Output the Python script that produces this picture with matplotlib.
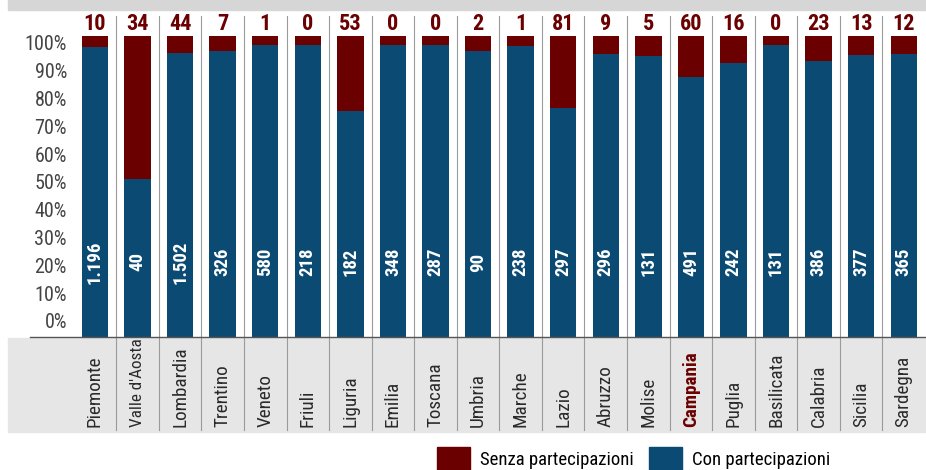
import matplotlib.pyplot as plt
from matplotlib.patches import Patch, Rectangle
from matplotlib.transforms import blended_transform_factory, ScaledTranslation

plt.rcParams['font.family'] = ['Roboto Condensed', 'Liberation Sans Narrow',
                               'Liberation Sans', 'DejaVu Sans']

# Dati per regione
regioni = ['Piemonte', "Valle d'Aosta", 'Lombardia', 'Trentino', 'Veneto', 'Friuli',
           'Liguria', 'Emilia', 'Toscana', 'Umbria', 'Marche', 'Lazio', 'Abruzzo',
           'Molise', 'Campania', 'Puglia', 'Basilicata', 'Calabria', 'Sicilia', 'Sardegna']
senza = [10, 34, 44, 7, 1, 0, 53, 0, 0, 2, 1, 81, 9, 5, 60, 16, 0, 23, 13, 12]
con = [1196, 40, 1502, 326, 580, 218, 182, 348, 287, 90, 238, 297, 296, 131, 491,
       242, 131, 386, 377, 365]
y_ticks = list(range(0, 101, 10))

ROSSO = '#6b0000'
BLU = '#0b4a73'
TOP = 103  # le barre arrivano un po' sopra il 100%

quota_con = [c / (c + s) * 100 for c, s in zip(con, senza)]
quota_senza = [TOP - q for q in quota_con]
x = list(range(len(regioni)))

fig = plt.figure(figsize=(9.26, 4.70), dpi=100)
ax = fig.add_axes([73.7 / 926, 133 / 470, (925 - 73.7) / 926, 325 / 470])
ax.patch.set_alpha(0)
ax.set_zorder(1)

# fascia grigia del titolo (tagliata) e fascia delle etichette
fig.patches.append(Rectangle((8 / 926, 1 - 10 / 470), 918 / 926, 10 / 470,
                             transform=fig.transFigure, color='#d6d6d6', zorder=0))
fig.patches.append(Rectangle((8 / 926, 38 / 470), 917 / 926, 94 / 470,
                             transform=fig.transFigure, color='#e6e6e6', zorder=0))

ax.bar(x, quota_con, width=0.62, color=BLU, zorder=2)
ax.bar(x, quota_senza, bottom=quota_con, width=0.62, color=ROSSO, zorder=2)

ax.set_xlim(-0.5, len(regioni) - 0.5)
ax.set_ylim(0, 111.3)

# separatori verticali
for i in range(len(regioni) - 1):
    ax.plot([i + 0.5, i + 0.5], [-31.8, 110], color='#9a9a9a', lw=0.8,
            clip_on=False, zorder=1)
ax.plot([-1.53, len(regioni) - 0.5], [0, 0], color='#555555', lw=1.0,
        clip_on=False, zorder=3)

for i in x:
    ax.text(i, 107.3, str(senza[i]), ha='center', va='center', color=ROSSO,
            fontsize=16, fontweight='bold')
    ax.text(i, 25.7, f'{con[i]:,}'.replace(',', '.'), ha='center', va='center',
            rotation=90, color='white', fontsize=13.5, fontweight='bold', zorder=3)
    campania = regioni[i] == 'Campania'
    ax.text(i, -30.8, regioni[i], ha='center', va='bottom', rotation=90,
            fontsize=12.3 if len(regioni[i]) > 10 else 13.8,
            color=ROSSO if campania else '#2a2a2a',
            fontweight='bold' if campania else 'normal')

# etichette asse y (leggermente sollevate verso il basso della scala)
ytr = blended_transform_factory(ax.transAxes, ax.transData)
for t in y_ticks:
    off = ScaledTranslation(0, 14 * (1 - t / 100) / 100, fig.dpi_scale_trans)
    ax.text(-0.008, t, f'{t}%', transform=ytr + off, ha='right', va='center',
            fontsize=14.5, color='#444444')
ax.set_yticks([])
ax.set_xticks([])
for sp in ax.spines.values():
    sp.set_visible(False)

handles = [Patch(color=ROSSO, label='Senza partecipazioni'),
           Patch(color=BLU, label='Con partecipazioni')]
fig.legend(handles=handles, loc='lower left', bbox_to_anchor=(437 / 926, 0.0),
           ncol=2, frameon=False, fontsize=13.5, handlelength=1.75, handleheight=1.5,
           handletextpad=0.55, columnspacing=0.8, borderpad=0, borderaxespad=0)

fig.savefig('out.png', dpi=100)
